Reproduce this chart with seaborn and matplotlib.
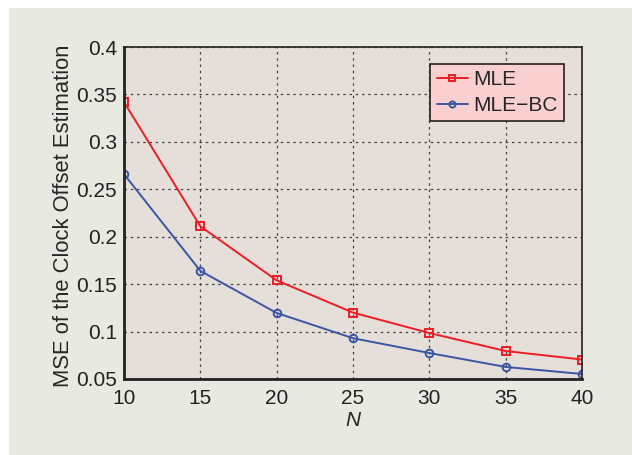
import pandas as pd
import matplotlib.pyplot as plt
import seaborn as sns

N = [10, 15, 20, 25, 30, 35, 40]
mse_mle = [0.342, 0.211, 0.154, 0.120, 0.0985, 0.0795, 0.0705]
mse_mle_bc = [0.266, 0.164, 0.1196, 0.093, 0.0774, 0.0627, 0.0553]

df = pd.DataFrame({
    "N": N * 2,
    "mse": mse_mle + mse_mle_bc,
    "method": ["MLE"] * len(N) + ["MLE\u2212BC"] * len(N),
})

sns.set_style("ticks")
plt.rcParams["font.family"] = ["Liberation Sans", "DejaVu Sans"]

fig = plt.figure(figsize=(6.32, 4.55), dpi=100)
fig.patch.set_facecolor("white")
# light panel behind the chart, white strip on top/left
fig.patches.append(plt.Rectangle((9 / 632, -0.1), 1.2, 447 / 455 + 0.1, transform=fig.transFigure,
                                 facecolor="#e8eae1", edgecolor="none", zorder=-1))

ax = fig.add_axes([124 / 632, 76 / 455, 458 / 632, 332 / 455])
ax.set_facecolor("#e6ded8")

sns.lineplot(data=df, x="N", y="mse", hue="method", style="method",
             palette={"MLE": "#ee1c25", "MLE\u2212BC": "#3a56a6"},
             markers={"MLE": "s", "MLE\u2212BC": "o"}, dashes=False,
             markersize=5.5, markerfacecolor="none", markeredgewidth=1.4,
             linewidth=1.4, ax=ax)
for line in ax.lines:
    line.set_markerfacecolor("none")
    line.set_markeredgecolor(line.get_color())

ax.set_xlim(10, 40)
ax.set_ylim(0.05, 0.4)
ax.set_xticks(N)
ax.set_yticks([0.05, 0.1, 0.15, 0.2, 0.25, 0.3, 0.35, 0.4])
ax.set_yticklabels(["0.05", "0.1", "0.15", "0.2", "0.25", "0.3", "0.35", "0.4"])
ax.tick_params(direction="in", length=0, labelsize=15, colors="#222222")
ax.tick_params(axis="x", pad=7)
ax.tick_params(axis="y", pad=5)
ax.grid(True, linestyle=(0, (2, 3)), color="#444444", linewidth=0.9)
for side in ["top", "right"]:
    ax.spines[side].set_linewidth(1.2)
for side in ["left", "bottom"]:
    ax.spines[side].set_linewidth(2.0)
for sp in ax.spines.values():
    sp.set_color("#222222")
    sp.set_visible(True)

ax.set_xlabel("N", fontsize=15, style="italic", labelpad=2)
ax.set_ylabel("MSE of the Clock Offset Estimation", fontsize=15.8)
ax.yaxis.set_label_coords(-0.109, 0.491)

leg = ax.legend(loc="upper right", bbox_to_anchor=(0.96, 0.95), fontsize=15,
                frameon=True, fancybox=False, handlelength=1.5,
                handletextpad=0.25, borderpad=0.3, labelspacing=0.35,
                borderaxespad=0.0, markerscale=0.8)
leg.get_frame().set_facecolor("#f9cfd0")
leg.get_frame().set_edgecolor("#222222")
leg.get_frame().set_alpha(1)
leg.get_frame().set_linewidth(1.2)
for h in leg.legend_handles:
    h.set_markerfacecolor("none")
    h.set_markeredgecolor(h.get_color())

fig.savefig("out.png", dpi=100, facecolor=fig.get_facecolor())
